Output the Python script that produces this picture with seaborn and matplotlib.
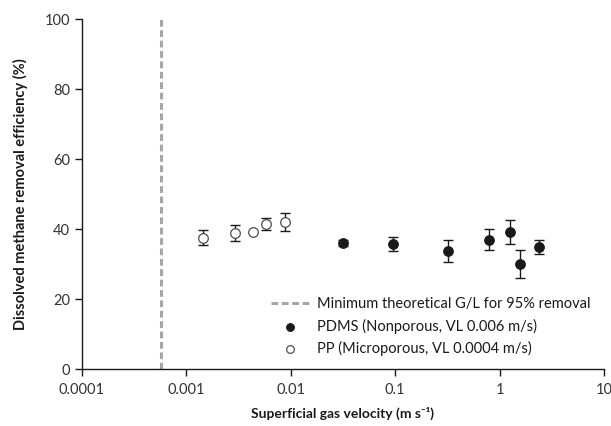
import numpy as np
import pandas as pd
import matplotlib
matplotlib.use("Agg")
import matplotlib.pyplot as plt
from matplotlib.ticker import FixedLocator, NullLocator, FixedFormatter
import seaborn as sns

# Valeurs
pdms_velocity = [0.032, 0.096, 0.32, 0.80, 1.26, 1.58, 2.37]
pdms_removal = [36.0, 35.7, 33.8, 37.0, 39.2, 30.1, 34.8]
pdms_error = [0.8, 2.0, 3.2, 3.0, 3.5, 4.0, 2.0]

pp_velocity = [0.00144, 0.00295, 0.00436, 0.00585, 0.00876]
pp_removal = [37.6, 38.9, 39.2, 41.5, 42.0]
pp_error = [2.1, 2.3, 0.0, 1.7, 2.6]

min_gl_velocity = 0.00058

x_ticks = [0.0001, 0.001, 0.01, 0.1, 1, 10]
x_tick_labels = ["0.0001", "0.001", "0.01", "0.1", "1", "10"]
y_ticks = [0, 20, 40, 60, 80, 100]

sns.set_style("ticks")
plt.rcParams["font.family"] = ["Lato", "DejaVu Sans"]

pdms = pd.DataFrame({"v": pdms_velocity, "eff": pdms_removal, "err": pdms_error})
pp = pd.DataFrame({"v": pp_velocity, "eff": pp_removal, "err": pp_error})

fig = plt.figure(figsize=(6.11, 4.26), dpi=100)
ax = fig.add_axes([0.1337, 0.1338, 0.8548, 0.8209])

# ligne verticale G/L minimum
ax.axvline(min_gl_velocity, color="#a6a6a6", linestyle=(0, (2.2, 1.2)), linewidth=2.2,
           label="Minimum theoretical G/L for 95% removal", zorder=1)

# barres d'erreur
ax.errorbar(pdms["v"], pdms["eff"], yerr=pdms["err"], fmt="none", ecolor="#1a1a1a",
            elinewidth=1.0, capsize=3.3, capthick=1.0, zorder=2)
pp_err = pp[pp["err"] > 0]
ax.errorbar(pp_err["v"], pp_err["eff"], yerr=pp_err["err"], fmt="none", ecolor="#1a1a1a",
            elinewidth=1.0, capsize=3.3, capthick=1.0, zorder=2)

sns.scatterplot(data=pdms, x="v", y="eff", ax=ax, color="#1a1a1a", edgecolor="#1a1a1a",
                s=48, marker="o", linewidth=0.8, zorder=3,
                label="PDMS (Nonporous, VL 0.006 m/s)")
sns.scatterplot(data=pp, x="v", y="eff", ax=ax, color="white", edgecolor="#4d4d4d",
                s=48, marker="o", linewidth=0.9, zorder=3,
                label="PP (Microporous, VL 0.0004 m/s)")

ax.set_xscale("log")
ax.set_xlim(0.0001, 10)
ax.set_ylim(0, 100)
ax.xaxis.set_major_locator(FixedLocator(x_ticks))
ax.xaxis.set_major_formatter(FixedFormatter(x_tick_labels))
ax.xaxis.set_minor_locator(NullLocator())
ax.set_yticks(y_ticks)

for side in ["top", "right"]:
    ax.spines[side].set_visible(False)
for side in ["left", "bottom"]:
    ax.spines[side].set_color("#1a1a1a")
    ax.spines[side].set_linewidth(1.0)

ax.tick_params(axis="both", labelsize=10.5, colors="#1a1a1a", length=5, width=1.0,
               labelcolor="#333333")
ax.tick_params(axis="x", pad=5)

ax.set_xlabel("Superficial gas velocity (m s\u207b\u00b9)", fontsize=10, fontweight="bold",
              color="#1a1a1a", labelpad=7)
ax.set_ylabel("Dissolved methane removal efficiency (%)", fontsize=10.5, fontweight="bold",
              color="#1a1a1a", labelpad=12)

ax.legend(loc="lower right", bbox_to_anchor=(1.0, 0.0), frameon=False, fontsize=10.5,
          handlelength=2.6, handletextpad=0.6, labelspacing=0.5, labelcolor="#1a1a1a",
          markerscale=0.8)

fig.savefig("out.png", dpi=100)
